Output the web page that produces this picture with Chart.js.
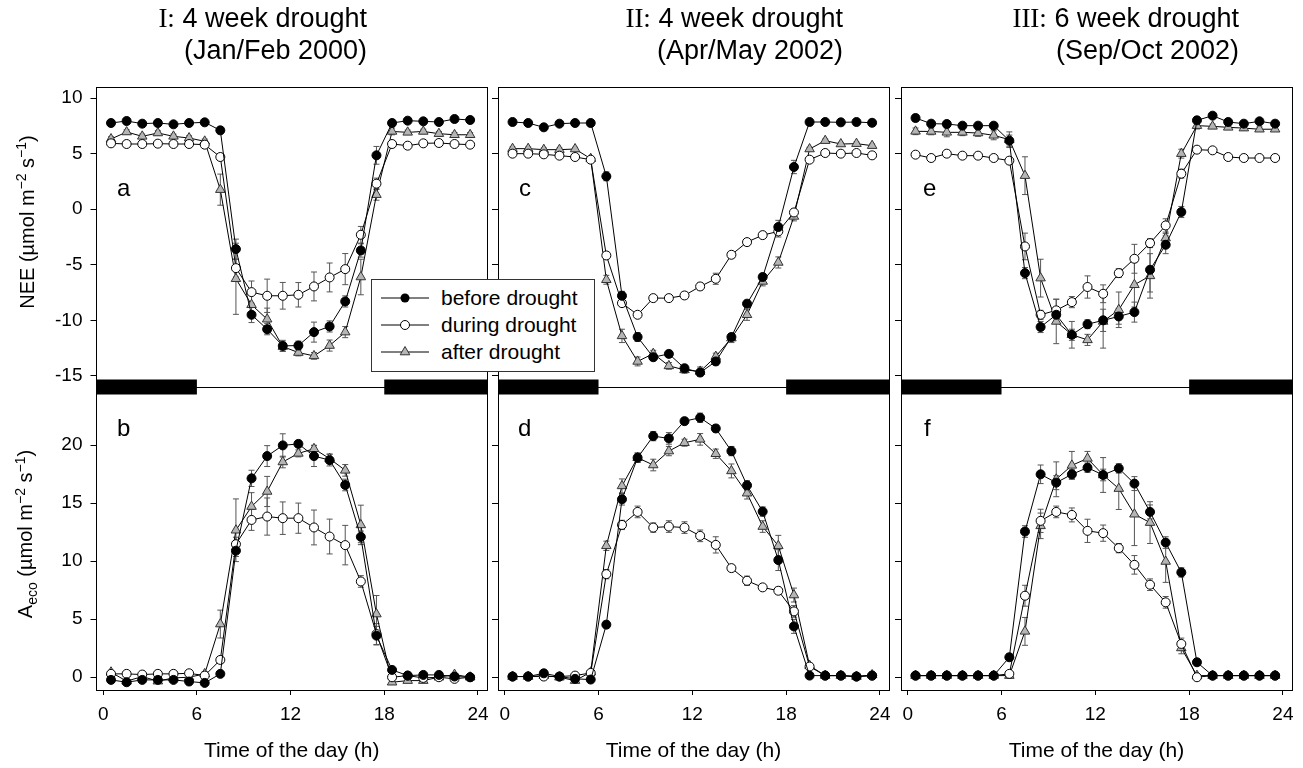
<!DOCTYPE html>
<html>
<head>
<meta charset="utf-8">
<title>NEE and Aeco during drought</title>
<script src="https://cdn.jsdelivr.net/npm/chart.js@4"></script>
<style>
  body { margin: 0; background: #fff; font-family: "Liberation Sans", Arial, sans-serif; color: #000; }
  #page { position: relative; width: 1303px; height: 768px; overflow: hidden; }
  canvas { position: absolute; top: 0; }
  .head { position: absolute; top: 2px; text-align: right; font-size: 27px; line-height: 32px; white-space: nowrap; }
  .head .num { font-family: "Liberation Serif", "Times New Roman", serif; }
  .ytitle { position: absolute; font-size: 20px; white-space: nowrap; transform: translate(-50%, -50%) rotate(-90deg); }
  .ytitle sup, .ytitle sub { font-size: 14px; }
  .letter { position: absolute; font-size: 24px; line-height: 24px; }
  #legend { position: absolute; left: 371px; top: 279px; width: 222px; height: 91px; border: 1px solid #333; background: #fff; font-size: 21px; }
  #legend div { position: absolute; left: 9px; height: 24px; line-height: 24px; white-space: nowrap; }
  #legend svg { vertical-align: middle; margin-right: 12px; margin-top: -3px; }
</style>
</head>
<body>
<div id="page">
  <canvas id="col1" width="500" height="768" style="left:0px;width:500px;height:768px"></canvas>
  <canvas id="col2" width="412" height="768" style="left:490px;width:412px;height:768px"></canvas>
  <canvas id="col3" width="410" height="768" style="left:893px;width:410px;height:768px"></canvas>

  <div class="head" style="right:936px"><span class="num">I:</span> 4 week drought<br>(Jan/Feb 2000)</div>
  <div class="head" style="right:460px"><span class="num">II:</span> 4 week drought<br>(Apr/May 2002)</div>
  <div class="head" style="right:64px"><span class="num">III:</span> 6 week drought<br>(Sep/Oct 2002)</div>

  <div class="ytitle" style="left:26px;top:222px">NEE (µmol m<sup>−2</sup> s<sup>−1</sup>)</div>
  <div class="ytitle" style="left:26px;top:534px">A<sub>eco</sub> (µmol m<sup>−2</sup> s<sup>−1</sup>)</div>

  <div class="letter" style="left:117px;top:176px">a</div>
  <div class="letter" style="left:117px;top:416px">b</div>
  <div class="letter" style="left:519px;top:176px">c</div>
  <div class="letter" style="left:518px;top:416px">d</div>
  <div class="letter" style="left:923px;top:176px">e</div>
  <div class="letter" style="left:924px;top:416px">f</div>

  <div id="legend">
    <div style="top:6px"><svg width="48" height="14"><line x1="0" y1="7" x2="48" y2="7" stroke="#000" stroke-width="1"/><circle cx="24" cy="7" r="4.5" fill="#000"/></svg>before drought</div>
    <div style="top:33px"><svg width="48" height="14"><line x1="0" y1="7" x2="48" y2="7" stroke="#000" stroke-width="1"/><circle cx="24" cy="7" r="4.5" fill="#fff" stroke="#000"/></svg>during drought</div>
    <div style="top:60px"><svg width="48" height="14"><line x1="0" y1="7" x2="48" y2="7" stroke="#000" stroke-width="1"/><polygon points="24,1.5 19.2,9.8 28.8,9.8" fill="#b5b5b5" stroke="#333"/></svg>after drought</div>
  </div>
</div>

<script>
var hours = [0.5, 1.5, 2.5, 3.5, 4.5, 5.5, 6.5, 7.5, 8.5, 9.5, 10.5, 11.5,
             12.5, 13.5, 14.5, 15.5, 16.5, 17.5, 18.5, 19.5, 20.5, 21.5, 22.5, 23.5];
var hourTicks = [0, 6, 12, 18, 24];
var neeTicks = [-15, -10, -5, 0, 5, 10];
var aecoTicks = [0, 5, 10, 15, 20];
var X_MIN = -0.43, X_MAX = 24.58;
var NEE_MIN = -16, NEE_MAX = 11;
var AECO_MIN = -1.1, AECO_MAX = 25;
// dark hours (night bars)
var nightHours = [[X_MIN, 6], [18, X_MAX]];

// I: Jan/Feb 2000 - NEE (panel a)
var aBefore = [7.76, 7.94, 7.70, 7.76, 7.64, 7.76, 7.82, 7.10, -3.59, -9.5, -10.8, -12.3, -12.27, -11.06, -10.55, -8.3, -3.71, 4.85, 7.76, 7.97, 7.91, 7.85, 8.12, 8.03];
var aDuring = [5.93, 5.87, 5.87, 5.9, 5.87, 5.87, 5.81, 4.7, -5.3, -7.46, -7.79, -7.79, -7.7, -6.95, -6.14, -5.39, -2.3, 2.3, 5.87, 5.72, 5.93, 5.96, 5.87, 5.81];
var aAfter = [6.32, 6.95, 6.56, 6.86, 6.56, 6.41, 6.11, 1.76, -6.26, -8.6, -9.9, -12.36, -12.9, -13.2, -12.27, -11.06, -6.1, 1.31, 7.0, 6.92, 7.0, 6.8, 6.7, 6.7];
var aBeforeErr = [0.2, 0.2, 0.2, 0.2, 0.2, 0.2, 0.2, 0.3, 0.9, 0.7, 0.5, 0.5, 0.4, 0.9, 0.5, 0.5, 0.6, 0.8, 0.3, 0.2, 0.2, 0.2, 0.2, 0.2];
var aDuringErr = [0.2, 0.3, 0.2, 0.2, 0.2, 0.2, 0.2, 0.3, 0.8, 1.0, 1.5, 1.2, 1.1, 1.3, 1.3, 1.4, 0.75, 0.5, 0.3, 0.2, 0.2, 0.3, 0.2, 0.2];
var aAfterErr = [0.2, 0.2, 0.2, 0.2, 0.2, 0.2, 0.2, 1.4, 3.2, 1.0, 1.0, 0.4, 0.3, 0.3, 0.5, 0.5, 1.6, 0.5, 0.3, 0.2, 0.2, 0.2, 0.2, 0.2];

// I: Aeco (panel b)
var bBefore = [-0.23, -0.43, -0.23, -0.23, -0.23, -0.37, -0.49, 0.29, 10.9, 17.13, 19.05, 19.97, 20.1, 19.05, 18.7, 16.56, 12.09, 3.58, 0.63, 0.14, 0.2, 0.2, 0.06, 0];
var bDuring = [0.29, 0.29, 0.23, 0.29, 0.29, 0.34, 0.14, 1.49, 11.46, 13.55, 13.84, 13.7, 13.7, 12.9, 12.12, 11.38, 8.25, 3.72, 0, 0.14, -0.06, 0, -0.14, 0];
var bAfter = [0.43, -0.34, 0.06, -0.34, -0.06, 0, 0.29, 4.58, 12.66, 14.7, 16.0, 18.54, 19.28, 19.68, 18.83, 17.82, 13.12, 5.44, -0.43, -0.29, -0.29, 0, 0.23, 0];
var bBeforeErr = [0.1, 0.1, 0.1, 0.1, 0.1, 0.1, 0.1, 0.2, 0.5, 0.7, 0.9, 1.0, 0.3, 0.9, 0.5, 0.5, 0.5, 0.8, 0.2, 0.1, 0.1, 0.1, 0.1, 0.1];
var bDuringErr = [0.1, 0.1, 0.1, 0.1, 0.1, 0.1, 0.1, 0.3, 0.6, 0.9, 1.6, 1.4, 1.3, 1.5, 1.5, 1.7, 0.5, 0.9, 0.2, 0.1, 0.1, 0.1, 0.1, 0.1];
var bAfterErr = [0.1, 0.1, 0.1, 0.1, 0.1, 0.1, 0.2, 1.2, 2.7, 1.2, 1.3, 0.5, 0.3, 0.3, 0.4, 0.5, 1.7, 1.6, 0.2, 0.1, 0.1, 0.1, 0.1, 0.1];

// II: Apr/May 2002 - NEE (panel c)
var cBefore = [7.85, 7.76, 7.37, 7.7, 7.76, 7.76, 2.96, -7.79, -11.5, -13.32, -13.02, -14.31, -14.7, -13.7, -11.5, -8.5, -6.1, -1.6, 3.8, 7.85, 7.85, 7.82, 7.85, 7.78];
var cDuring = [5.0, 5.0, 4.94, 4.82, 4.7, 4.46, -4.16, -8.45, -9.5, -8.0, -8.0, -7.76, -6.95, -6.26, -4.1, -2.96, -2.33, -2.0, -0.29, 4.46, 5.06, 5.0, 5.06, 4.85];
var cAfter = [5.45, 5.45, 5.36, 5.36, 5.42, 4.55, -6.35, -11.4, -13.7, -13.0, -14.1, -14.46, -14.6, -13.26, -11.6, -9.5, -6.5, -4.79, -0.65, 5.42, 6.17, 5.87, 5.9, 5.72];
var cBeforeErr = [0.15, 0.15, 0.15, 0.15, 0.15, 0.15, 0.4, 0.4, 0.4, 0.3, 0.3, 0.3, 0.3, 0.3, 0.3, 0.3, 0.3, 0.6, 0.6, 0.15, 0.15, 0.15, 0.15, 0.15];
var cDuringErr = [0.15, 0.15, 0.15, 0.15, 0.15, 0.15, 0.3, 0.3, 0.2, 0.2, 0.3, 0.3, 0.3, 0.5, 0.3, 0.3, 0.3, 0.5, 0.3, 0.15, 0.15, 0.15, 0.15, 0.15];
var cAfterErr = [0.15, 0.15, 0.15, 0.15, 0.15, 0.15, 0.4, 0.6, 0.4, 0.3, 0.3, 0.3, 0.4, 0.3, 0.4, 0.5, 0.4, 0.5, 0.4, 0.15, 0.15, 0.15, 0.15, 0.15];

// II: Aeco (panel d)
var dBefore = [0.06, 0.06, 0.34, 0.06, -0.14, -0.2, 4.53, 15.33, 18.91, 20.77, 20.57, 22.06, 22.35, 21.43, 19.48, 16.53, 14.27, 10.09, 4.38, 0.14, 0.14, 0.14, 0.06, 0.14];
var dDuring = [0.06, 0.06, 0.06, 0.06, 0.14, 0.37, 8.88, 13.12, 14.24, 12.89, 12.98, 12.89, 12.18, 11.4, 9.4, 8.31, 7.74, 7.45, 5.67, 0.92, 0.14, 0.14, 0.06, 0.14];
var dAfter = [0.06, 0.06, 0.14, 0, -0.29, 0.43, 11.32, 16.48, 18.91, 18.28, 19.48, 20.2, 20.49, 19.25, 17.77, 15.85, 12.98, 11.32, 7.08, 1.0, 0.14, 0.14, 0.06, 0.2];
var dBeforeErr = [0.1, 0.1, 0.1, 0.1, 0.1, 0.1, 0.3, 0.5, 0.4, 0.4, 0.5, 0.3, 0.4, 0.3, 0.4, 0.4, 0.4, 0.9, 0.6, 0.1, 0.1, 0.1, 0.1, 0.1];
var dDuringErr = [0.1, 0.1, 0.1, 0.1, 0.1, 0.1, 0.4, 0.4, 0.5, 0.4, 0.5, 0.5, 0.5, 0.7, 0.3, 0.4, 0.2, 0.3, 0.5, 0.1, 0.1, 0.1, 0.1, 0.1];
var dAfterErr = [0.1, 0.1, 0.1, 0.1, 0.1, 0.1, 0.4, 0.6, 0.4, 0.5, 0.4, 0.3, 0.5, 0.4, 0.6, 0.5, 0.5, 0.9, 0.6, 0.2, 0.1, 0.1, 0.1, 0.1];

// III: Sep/Oct 2002 - NEE (panel e)
var eBefore = [8.21, 7.7, 7.67, 7.52, 7.52, 7.52, 6.17, -5.75, -10.6, -9.5, -11.3, -10.35, -10.0, -9.65, -9.26, -5.45, -3.2, -0.25, 8.0, 8.42, 7.85, 7.7, 7.91, 7.7];
var eDuring = [4.91, 4.61, 5.0, 4.82, 4.82, 4.61, 4.37, -3.35, -9.5, -9.1, -8.36, -7.0, -7.61, -5.75, -4.46, -3.05, -1.46, 3.2, 5.36, 5.3, 4.7, 4.61, 4.61, 4.61];
var eAfter = [7.01, 7.0, 6.92, 6.92, 6.86, 6.65, 6.26, 3.02, -6.2, -10.1, -11.3, -11.76, -10.1, -9.05, -6.8, -6.0, -2.6, 5.0, 7.52, 7.46, 7.37, 7.3, 7.2, 7.2];
var eBeforeErr = [0.3, 0.2, 0.2, 0.2, 0.2, 0.2, 0.5, 0.5, 0.5, 0.6, 0.5, 0.4, 1.0, 0.7, 0.9, 2.0, 0.8, 0.5, 0.3, 0.2, 0.2, 0.2, 0.2, 0.2];
var eDuringErr = [0.2, 0.2, 0.2, 0.2, 0.2, 0.2, 0.3, 1.2, 0.4, 1.0, 0.5, 1.0, 0.8, 0.4, 1.3, 0.4, 0.6, 0.4, 0.2, 0.2, 0.2, 0.2, 0.2, 0.2];
var eAfterErr = [0.3, 0.3, 0.4, 0.3, 0.3, 0.4, 0.7, 1.7, 1.7, 2.0, 1.2, 0.5, 2.4, 1.6, 2.0, 2.0, 0.4, 0.4, 0.3, 0.2, 0.2, 0.2, 0.2, 0.2];

// III: Aeco (panel f)
var fBefore = [0.14, 0.14, 0.14, 0.14, 0.14, 0.14, 1.72, 12.55, 17.48, 16.76, 17.48, 18.05, 17.42, 17.99, 16.68, 14.24, 11.6, 9.03, 1.29, 0.14, 0.14, 0.14, 0.14, 0.14];
var fDuring = [0.14, 0.14, 0.14, 0.14, 0.14, 0.14, 0.29, 7.02, 13.47, 14.24, 13.98, 12.61, 12.41, 11.12, 9.68, 7.97, 6.45, 2.87, 0, 0.14, 0.14, 0.14, 0.14, 0.14];
var fAfter = [0.14, 0.14, 0.14, 0.14, 0.14, 0.14, 0.14, 3.95, 13.04, 17.05, 18.25, 18.85, 17.42, 16.25, 14.04, 13.32, 9.97, 2.52, 0.14, 0.14, 0.14, 0.14, 0.14, 0.14];
var fBeforeErr = [0.1, 0.1, 0.1, 0.1, 0.1, 0.1, 0.3, 0.5, 0.8, 0.6, 0.4, 0.4, 0.5, 0.4, 0.6, 0.6, 0.5, 0.4, 0.2, 0.1, 0.1, 0.1, 0.1, 0.1];
var fDuringErr = [0.1, 0.1, 0.1, 0.1, 0.1, 0.1, 0.2, 0.9, 1.0, 0.5, 0.6, 1.0, 0.7, 0.4, 0.8, 0.5, 0.5, 0.5, 0.1, 0.1, 0.1, 0.1, 0.1, 0.1];
var fAfterErr = [0.1, 0.1, 0.1, 0.1, 0.1, 0.1, 0.1, 1.2, 1.1, 1.5, 1.2, 0.6, 1.5, 1.8, 2.7, 1.8, 1.8, 0.5, 0.1, 0.1, 0.1, 0.1, 0.1, 0.1];

Chart.defaults.font.family = '"Liberation Sans", Arial, sans-serif';
Chart.defaults.color = '#000';

var markers = {
    before: { style: 'circle', radius: 4.5, fill: '#000', stroke: '#000' },
    during: { style: 'circle', radius: 4.5, fill: '#fff', stroke: '#000' },
    after: { style: 'triangle', radius: 5.5, fill: '#b5b5b5', stroke: '#333' }
};

// vertical error bars, drawn under the markers
var errorBars = {
    id: 'errorBars',
    beforeDatasetsDraw: function (chart) {
        var ctx = chart.ctx;
        ctx.save();
        ctx.strokeStyle = '#555';
        ctx.lineWidth = 1;
        chart.data.datasets.forEach(function (ds, i) {
            if (!ds.errors) return;
            var scale = chart.scales[ds.yAxisID];
            chart.getDatasetMeta(i).data.forEach(function (pt, j) {
                var e = ds.errors[j];
                if (!e) return;
                var v = ds.data[j].y;
                var top = scale.getPixelForValue(v + e);
                var bot = scale.getPixelForValue(v - e);
                ctx.beginPath();
                ctx.moveTo(pt.x, top); ctx.lineTo(pt.x, bot);
                ctx.moveTo(pt.x - 3, top); ctx.lineTo(pt.x + 3, top);
                ctx.moveTo(pt.x - 3, bot); ctx.lineTo(pt.x + 3, bot);
                ctx.stroke();
            });
        });
        ctx.restore();
    }
};

function series(kind, values, errors, axis) {
    var m = markers[kind];
    return {
        label: kind,
        data: hours.map(function (h, i) { return { x: h, y: values[i] }; }),
        errors: errors,
        yAxisID: axis,
        borderColor: '#000',
        borderWidth: 1,
        pointStyle: m.style,
        pointRadius: m.radius,
        pointBackgroundColor: m.fill,
        pointBorderColor: m.stroke,
        pointBorderWidth: 1
    };
}

function makeColumn(id, yWidth, padRight, labelled, nee, aeco) {
    var datasets = [
        series('before', nee[0], nee[3], 'yN'),
        series('during', nee[1], nee[4], 'yN'),
        series('after', nee[2], nee[5], 'yN'),
        series('before', aeco[0], aeco[3], 'yA'),
        series('during', aeco[1], aeco[4], 'yA'),
        series('after', aeco[2], aeco[5], 'yA')
    ];
    nightHours.forEach(function (span) {
        datasets.push({
            label: 'night',
            data: span.map(function (h) { return { x: h, y: NEE_MIN }; }),
            yAxisID: 'yN',
            borderColor: '#000',
            borderWidth: 15,
            borderCapStyle: 'butt',
            pointRadius: 0,
            clip: false
        });
    });

    var boundary = function (c) { return c.tick && c.tick.value === NEE_MIN; };

    new Chart(document.getElementById(id), {
        type: 'line',
        data: { datasets: datasets },
        options: {
            responsive: false,
            animation: false,
            layout: { padding: { top: 87, left: 0, right: padRight, bottom: 0 } },
            plugins: { legend: { display: false }, tooltip: { enabled: false } },
            scales: {
                x: {
                    type: 'linear', position: 'bottom', min: X_MIN, max: X_MAX,
                    afterBuildTicks: function (s) { s.ticks = hourTicks.map(function (v) { return { value: v }; }); },
                    ticks: { font: { size: 19 }, padding: 8, maxRotation: 0 },
                    grid: { drawOnChartArea: false, tickLength: 5, color: '#000' },
                    border: { color: '#000' },
                    title: { display: true, text: 'Time of the day (h)', font: { size: 21 }, padding: { top: 0, bottom: 4 } },
                    afterFit: function (s) { s.height = 78; }
                },
                xTop: {
                    type: 'linear', position: 'top',
                    ticks: { display: false },
                    grid: { display: false, drawTicks: false },
                    border: { color: '#000' },
                    afterFit: function (s) { s.height = 0; }
                },
                yR: {
                    type: 'linear', position: 'right',
                    ticks: { display: false },
                    grid: { display: false, drawTicks: false },
                    border: { color: '#000' },
                    afterFit: function (s) { s.width = 0; }
                },
                yA: {
                    type: 'linear', position: 'left', stack: 'col', stackWeight: 303,
                    min: AECO_MIN, max: AECO_MAX,
                    afterBuildTicks: function (s) { s.ticks = aecoTicks.map(function (v) { return { value: v }; }); },
                    ticks: { display: labelled, font: { size: 19 }, padding: 8 },
                    grid: { drawOnChartArea: false, tickLength: 6, color: '#000' },
                    border: { color: '#000' },
                    afterFit: function (s) { s.width = yWidth; }
                },
                yN: {
                    type: 'linear', position: 'left', stack: 'col', stackWeight: 300,
                    min: NEE_MIN, max: NEE_MAX,
                    afterBuildTicks: function (s) {
                        s.ticks = [NEE_MIN].concat(neeTicks).map(function (v) { return { value: v }; });
                    },
                    ticks: {
                        display: labelled, font: { size: 19 }, padding: 8,
                        callback: function (v) { return v === NEE_MIN ? '' : String(v); }
                    },
                    grid: {
                        tickLength: 6,
                        color: function (c) { return boundary(c) ? '#000' : 'rgba(0,0,0,0)'; },
                        tickColor: function (c) { return boundary(c) ? 'rgba(0,0,0,0)' : '#000'; }
                    },
                    border: { color: '#000' },
                    afterFit: function (s) { s.width = yWidth; }
                }
            }
        },
        plugins: [errorBars]
    });
}

makeColumn('col1', 96.5, 13, true,
    [aBefore, aDuring, aAfter, aBeforeErr, aDuringErr, aAfterErr],
    [bBefore, bDuring, bAfter, bBeforeErr, bDuringErr, bAfterErr]);
makeColumn('col2', 8, 13, false,
    [cBefore, cDuring, cAfter, cBeforeErr, cDuringErr, cAfterErr],
    [dBefore, dDuring, dAfter, dBeforeErr, dDuringErr, dAfterErr]);
makeColumn('col3', 8, 11, false,
    [eBefore, eDuring, eAfter, eBeforeErr, eDuringErr, eAfterErr],
    [fBefore, fDuring, fAfter, fBeforeErr, fDuringErr, fAfterErr]);
</script>
</body>
</html>
